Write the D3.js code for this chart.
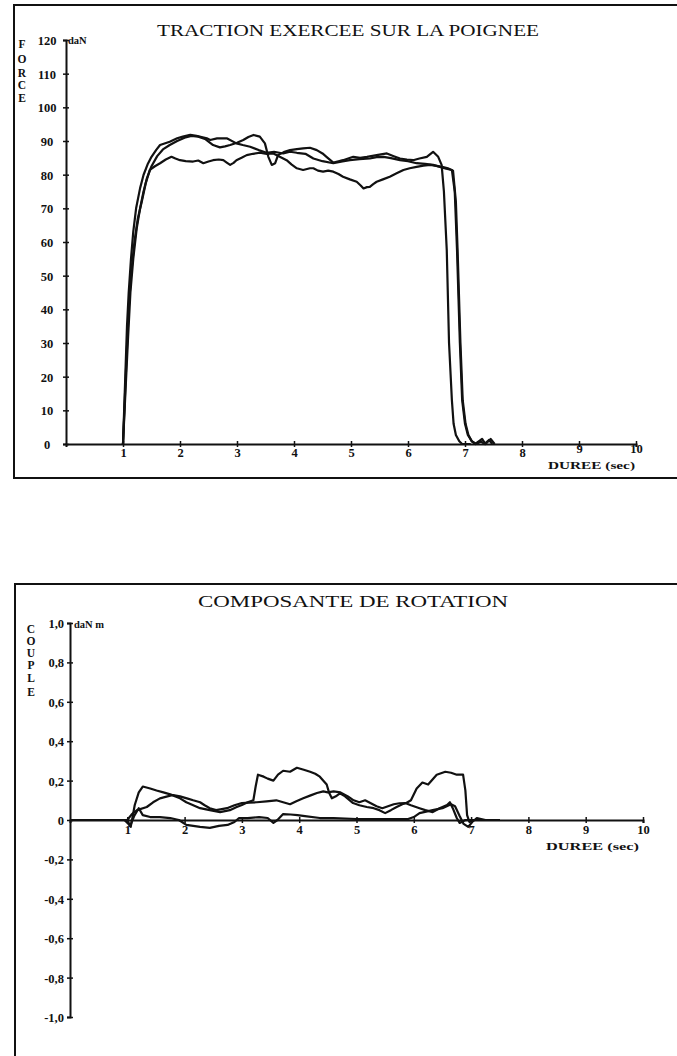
<!DOCTYPE html>
<html>
<head>
<meta charset="utf-8">
<script src="https://cdn.jsdelivr.net/npm/d3@7/dist/d3.min.js"></script>
<style>
html,body{margin:0;padding:0;background:#fff;}
svg{display:block;}
text{font-family:"Liberation Serif","DejaVu Serif",serif;fill:#111;}
</style>
</head>
<body>
<script>
// ---------- DATA ----------
const timeTicks = [1,2,3,4,5,6,7,8,9,10];
const forceTicks = [0,10,20,30,40,50,60,70,80,90,100,110,120];
const coupleTicks = [-1,-0.8,-0.6,-0.4,-0.2,0,0.2,0.4,0.6,0.8,1];
const coupleTickLabels = ["-1,0","-0,8","-0,6","-0,4","-0,2","0","0,2","0,4","0,6","0,8","1,0"];

// Traction force (daN) vs time (s), three trials
const forceA = [[0.98,0],[1.0,0],[1.04,20],[1.07,35],[1.1,45],[1.14,55],[1.18,63],[1.23,70],[1.3,76],[1.36,79.9],[1.43,83],[1.5,85.3],[1.58,87.3],[1.65,88.8],[1.82,89.8],[1.95,90.8],[2.05,91.3],[2.18,91.8],[2.29,91.5],[2.38,91.2],[2.47,90.8],[2.53,90.3],[2.65,90.8],[2.82,90.8],[2.99,89.3],[3.1,88.8],[3.23,88.3],[3.38,87.3],[3.52,86.5],[3.65,86.8],[3.81,86.3],[3.93,86.8],[4.05,86.5],[4.2,86.2],[4.34,84.8],[4.5,84],[4.69,83.4],[4.85,83.9],[4.98,84.3],[5.15,84.6],[5.33,84.8],[5.45,85.2],[5.57,85.3],[5.7,84.9],[5.86,84.3],[6.0,84],[6.15,83.4],[6.3,83.2],[6.44,82.9],[6.56,82.3],[6.67,81.8],[6.77,81.4],[6.82,75],[6.86,57.6],[6.91,30],[6.95,13],[7.0,6],[7.05,2.7],[7.12,0.8],[7.18,0],[7.3,1.5],[7.36,0],[7.45,1.5],[7.52,0]];
const forceB = [[0.98,0],[1.0,0],[1.05,18],[1.09,32],[1.13,45],[1.18,55],[1.24,64],[1.3,70],[1.36,75],[1.42,79],[1.5,82.5],[1.6,85.5],[1.7,87.5],[1.82,88.8],[1.95,90],[2.08,91],[2.2,91.5],[2.32,91.3],[2.45,90.5],[2.58,88.8],[2.7,88.1],[2.79,88.4],[2.88,88.8],[3.0,89.5],[3.11,90.3],[3.2,91.2],[3.29,91.8],[3.4,91.3],[3.49,89.3],[3.55,85.3],[3.61,82.9],[3.67,83.4],[3.72,85.8],[3.82,86.7],[3.93,87.3],[4.05,87.6],[4.16,87.8],[4.28,88],[4.4,87.3],[4.5,86.3],[4.57,85.3],[4.69,83.6],[4.78,84],[4.86,84.3],[4.95,84.8],[5.04,85.3],[5.16,85],[5.28,85.3],[5.45,85.8],[5.63,86.3],[5.75,85.5],[5.86,84.8],[5.98,84.5],[6.09,84.3],[6.2,84.8],[6.33,85.3],[6.44,86.8],[6.53,85.3],[6.59,82.9],[6.63,75],[6.68,57.6],[6.72,30],[6.77,13],[6.8,6],[6.84,2.7],[6.9,0.8],[6.95,0],[7.1,0]];
const forceC = [[0.98,0],[1.0,0],[1.06,25],[1.1,40],[1.14,50],[1.2,60],[1.26,67],[1.33,72],[1.4,77.5],[1.47,81.4],[1.56,82.5],[1.65,83.4],[1.75,84.5],[1.85,85.3],[1.92,84.8],[2.0,84.3],[2.1,84],[2.23,83.9],[2.32,84.2],[2.41,83.4],[2.5,83.9],[2.58,84.3],[2.68,84.5],[2.76,84.3],[2.82,83.6],[2.88,82.9],[2.94,83.5],[2.99,84.3],[3.08,85],[3.17,85.8],[3.28,86.2],[3.4,86.5],[3.52,86.2],[3.64,86.3],[3.75,85.3],[3.87,84.3],[3.96,83],[4.05,81.9],[4.16,81.4],[4.28,81.9],[4.34,81.9],[4.42,81.2],[4.51,80.9],[4.6,81.2],[4.69,80.9],[4.78,80.2],[4.86,79.4],[4.98,78.6],[5.1,77.9],[5.17,76.8],[5.22,75.9],[5.28,76.3],[5.33,76.4],[5.39,77.2],[5.45,77.9],[5.56,78.6],[5.68,79.4],[5.8,80.4],[5.92,81.4],[6.03,81.9],[6.15,82.3],[6.27,82.7],[6.39,82.9],[6.5,82.6],[6.6,82.3],[6.7,81.9],[6.79,81.2],[6.84,72],[6.87,57.6],[6.92,30],[6.96,13],[7.01,6],[7.06,2.7],[7.12,0.8],[7.2,0],[7.28,0.8],[7.34,0],[7.42,1.2],[7.48,0]];

// Rotation torque (daN m) vs time (s), three trials
const coupleD = [[0,0],[0.95,0],[1.02,-0.02],[1.06,-0.035],[1.13,0.076],[1.2,0.14],[1.27,0.17],[1.4,0.16],[1.51,0.15],[1.63,0.14],[1.75,0.13],[1.92,0.11],[2.03,0.09],[2.15,0.075],[2.27,0.06],[2.44,0.05],[2.62,0.04],[2.79,0.05],[2.9,0.065],[3.0,0.076],[3.1,0.09],[3.2,0.1],[3.24,0.17],[3.28,0.23],[3.38,0.22],[3.45,0.21],[3.55,0.2],[3.63,0.23],[3.72,0.25],[3.84,0.245],[3.96,0.265],[4.08,0.255],[4.19,0.245],[4.28,0.235],[4.36,0.22],[4.48,0.18],[4.52,0.14],[4.57,0.11],[4.64,0.12],[4.71,0.135],[4.8,0.12],[4.94,0.086],[5.05,0.075],[5.18,0.066],[5.3,0.06],[5.4,0.05],[5.5,0.035],[5.6,0.05],[5.7,0.066],[5.8,0.08],[5.87,0.086],[5.95,0.1],[6.05,0.16],[6.15,0.19],[6.25,0.18],[6.4,0.23],[6.55,0.245],[6.65,0.24],[6.75,0.23],[6.86,0.23],[6.9,0.15],[6.93,0.025],[6.97,-0.01],[7.05,0],[7.5,0]];
const coupleE = [[0,0],[1.0,0],[1.08,0.03],[1.17,0.05],[1.34,0.066],[1.45,0.09],[1.57,0.11],[1.7,0.12],[1.8,0.127],[1.92,0.12],[2.04,0.11],[2.15,0.1],[2.27,0.09],[2.35,0.075],[2.44,0.06],[2.55,0.05],[2.65,0.055],[2.74,0.06],[2.87,0.075],[3.0,0.086],[3.13,0.088],[3.26,0.09],[3.43,0.095],[3.6,0.1],[3.72,0.09],[3.84,0.08],[3.95,0.095],[4.07,0.11],[4.2,0.125],[4.31,0.137],[4.42,0.145],[4.5,0.14],[4.6,0.145],[4.72,0.14],[4.85,0.12],[4.95,0.1],[5.05,0.09],[5.15,0.1],[5.25,0.085],[5.35,0.07],[5.45,0.06],[5.55,0.07],[5.65,0.08],[5.75,0.085],[5.85,0.086],[5.95,0.075],[6.1,0.06],[6.2,0.05],[6.33,0.04],[6.45,0.06],[6.58,0.076],[6.63,0.09],[6.68,0.06],[6.75,0.01],[6.8,-0.015],[6.9,0],[7.5,0]];
const coupleF = [[0,0],[1.0,0],[1.05,-0.03],[1.12,0.02],[1.2,0.06],[1.27,0.025],[1.4,0.015],[1.57,0.015],[1.75,0.01],[1.9,0],[2.03,-0.025],[2.15,-0.03],[2.27,-0.035],[2.44,-0.04],[2.6,-0.03],[2.75,-0.025],[2.87,-0.01],[2.95,0.01],[3.1,0.01],[3.3,0.015],[3.45,0.01],[3.55,-0.015],[3.62,0.0],[3.72,0.03],[3.85,0.028],[3.97,0.025],[4.1,0.02],[4.36,0.01],[4.6,0.01],[5.0,0.005],[5.5,0.005],[5.9,0.005],[6.0,0.015],[6.1,0.035],[6.33,0.05],[6.5,0.06],[6.65,0.08],[6.72,0.07],[6.8,0.02],[6.87,-0.02],[6.95,-0.035],[7.02,-0.01],[7.1,0.01],[7.25,0],[7.5,0]];

const topTitle = "TRACTION EXERCEE SUR LA POIGNEE";
const bottomTitle = "COMPOSANTE DE ROTATION";

// ---------- DRAW ----------
const W = 677, H = 1056;
const svg = d3.select("body").append("svg").attr("width", W).attr("height", H);
svg.append("rect").attr("width", W).attr("height", H).attr("fill", "#fff");

// panel frames (right side cut off by the page edge)
svg.append("path").attr("d", "M700,5 H14 V478 H700").attr("fill","none").attr("stroke","#111").attr("stroke-width",2);
svg.append("path").attr("d", "M700,584 H15 V1070").attr("fill","none").attr("stroke","#111").attr("stroke-width",2);

// ---- Top chart ----
const xT = d3.scaleLinear().domain([0,10]).range([66,636]);
const yT = d3.scaleLinear().domain([0,120]).range([444,40]);

function styleAxis(g){
  g.select(".domain").attr("stroke","#111").attr("stroke-width",2);
  g.selectAll(".tick line").attr("stroke","#111").attr("stroke-width",1.5);
  g.selectAll(".tick text").attr("font-size",12.5).attr("font-weight","bold").attr("fill","#111")
   .attr("font-family","'Liberation Serif',serif");
}

const gyT = svg.append("g").attr("transform",`translate(${xT(0)},0)`)
  .call(d3.axisLeft(yT).tickValues(forceTicks).tickSizeOuter(0).tickSize(3).tickFormat(d3.format("d")));
styleAxis(gyT);
gyT.selectAll(".tick line").attr("x1",-3).attr("x2",3);
gyT.selectAll(".tick text").attr("x",-19).attr("text-anchor","middle").attr("dy","0.36em");

const gxT = svg.append("g").attr("transform",`translate(0,${yT(0)})`)
  .call(d3.axisBottom(xT).tickValues(timeTicks).tickSizeOuter(0).tickSize(3).tickFormat(d3.format("d")));
styleAxis(gxT);
gxT.selectAll(".tick line").attr("y1",-3).attr("y2",3);
gxT.selectAll(".tick text").attr("y",d => d >= 9 ? 0 : 4);

const lineT = d3.line().x(d=>xT(d[0])).y(d=>yT(d[1]));
[forceA, forceB, forceC].forEach(s=>{
  svg.append("path").datum(s).attr("d",lineT).attr("fill","none")
    .attr("stroke","#111").attr("stroke-width",2.2).attr("stroke-linejoin","round");
});

svg.append("text").attr("x",157).attr("y",36).attr("font-size",16)
  .attr("textLength",382).attr("lengthAdjust","spacingAndGlyphs").text(topTitle);
svg.append("text").attr("x",68).attr("y",44).attr("font-size",10.5).attr("font-weight","bold").text("daN");
["F","O","R","C","E"].forEach((c,i)=>{
  svg.append("text").attr("x",22).attr("y",[48,63,77,89,102][i]).attr("text-anchor","middle")
    .attr("font-size",11.5).attr("font-weight","bold").text(c);
});
svg.append("text").attr("x",548).attr("y",469).attr("font-size",11).attr("font-weight","bold")
  .attr("textLength",87).attr("lengthAdjust","spacingAndGlyphs").text("DUREE (sec)");

// ---- Bottom chart ----
const xB = d3.scaleLinear().domain([0,10]).range([70,643]);
const yB = d3.scaleLinear().domain([-1,1]).range([1017,623]);

const gyB = svg.append("g").attr("transform",`translate(${xB(0)},0)`)
  .call(d3.axisLeft(yB).tickValues(coupleTicks).tickSizeOuter(0).tickSize(3)
    .tickFormat((d,i)=>coupleTickLabels[i]));
styleAxis(gyB);
gyB.selectAll(".tick line").attr("x1",-3).attr("x2",3);
gyB.selectAll(".tick text").attr("x",-6).attr("dy","0.36em");

const gxB = svg.append("g").attr("transform",`translate(0,${yB(0)})`)
  .call(d3.axisBottom(xB).tickValues(timeTicks).tickSizeOuter(0).tickSize(3).tickFormat(d3.format("d")));
styleAxis(gxB);
gxB.selectAll(".tick line").attr("y1",-3).attr("y2",3);
gxB.selectAll(".tick text").attr("y",5);

const lineB = d3.line().x(d=>xB(d[0])).y(d=>yB(d[1]));
[coupleD, coupleE, coupleF].forEach(s=>{
  svg.append("path").datum(s).attr("d",lineB).attr("fill","none")
    .attr("stroke","#111").attr("stroke-width",2.2).attr("stroke-linejoin","round");
});

svg.append("text").attr("x",198).attr("y",607).attr("font-size",16)
  .attr("textLength",310).attr("lengthAdjust","spacingAndGlyphs").text(bottomTitle);
svg.append("text").attr("x",74).attr("y",628).attr("font-size",10.5).attr("font-weight","bold").text("daN m");
["C","O","U","P","L","E"].forEach((c,i)=>{
  svg.append("text").attr("x",31).attr("y",[633,645,657,669,682,696][i]).attr("text-anchor","middle")
    .attr("font-size",11.5).attr("font-weight","bold").text(c);
});
svg.append("text").attr("x",546).attr("y",850).attr("font-size",11).attr("font-weight","bold")
  .attr("textLength",93).attr("lengthAdjust","spacingAndGlyphs").text("DUREE (sec)");
</script>
</body>
</html>
